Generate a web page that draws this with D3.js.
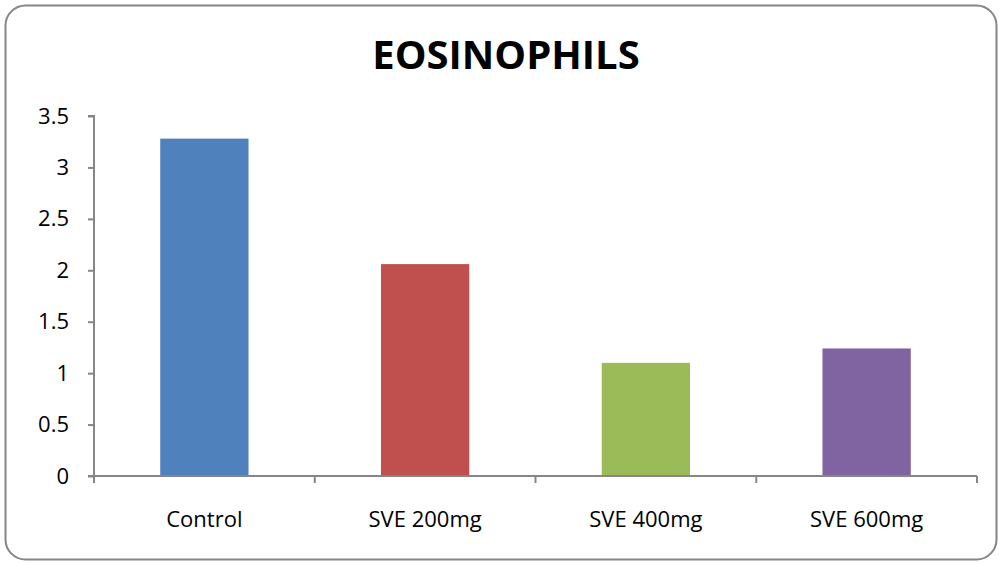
<!DOCTYPE html>
<html>
<head>
<meta charset="utf-8">
<script src="https://cdn.jsdelivr.net/npm/d3@7"></script>
<style>
  html, body { margin: 0; padding: 0; background: #fff; }
  svg { display: block; }
</style>
</head>
<body>
<svg id="chart" width="999" height="563"></svg>
<script>
// Eosinophil counts per treatment group
const categories = ["Control", "SVE 200mg", "SVE 400mg", "SVE 600mg"];
const values = [3.28, 2.06, 1.1, 1.24];
const colors = ["#4f81bd", "#c0504d", "#9bbb59", "#8064a2"];
const yTicks = [0, 0.5, 1, 1.5, 2, 2.5, 3, 3.5];
const yTickLabels = ["0", "0.5", "1", "1.5", "2", "2.5", "3", "3.5"];
const title = "EOSINOPHILS";

const svg = d3.select("#chart");
const W = 999, H = 563;
const font = "'Open Sans', 'Liberation Sans', sans-serif";

// outer frame
svg.append("rect")
  .attr("x", 5.5).attr("y", 5.5)
  .attr("width", W - 8).attr("height", H - 9)
  .attr("rx", 20).attr("ry", 20)
  .attr("fill", "#fff")
  .attr("stroke", "#868686")
  .attr("stroke-width", 2);

const plot = { left: 94, right: 977, top: 116, bottom: 476 };

const x = d3.scaleBand()
  .domain(categories)
  .range([plot.left, plot.right])
  .paddingInner(0.6)
  .paddingOuter(0.3);

const y = d3.scaleLinear()
  .domain([0, 3.5])
  .range([plot.bottom, plot.top]);

// title
svg.append("text")
  .attr("x", 506).attr("y", 69)
  .attr("text-anchor", "middle")
  .attr("font-family", font)
  .attr("font-weight", "bold")
  .attr("font-size", 40)
  .attr("fill", "#000")
  .text(title);

// bars
svg.append("g").selectAll("rect")
  .data(categories)
  .join("rect")
  .attr("x", d => x(d))
  .attr("width", x.bandwidth())
  .attr("y", (d, i) => y(values[i]))
  .attr("height", (d, i) => y(0) - y(values[i]))
  .attr("fill", (d, i) => colors[i]);

// y axis
const yAxis = d3.axisLeft(y)
  .tickValues(yTicks)
  .tickFormat((d, i) => yTickLabels[i])
  .tickSize(6)
  .tickPadding(19);

const gy = svg.append("g")
  .attr("transform", `translate(${plot.left},0)`)
  .call(yAxis);
gy.select(".domain").attr("stroke", "#868686").attr("stroke-width", 2)
  .attr("d", `M-6,${plot.top}H0V${plot.bottom}`);
gy.selectAll(".tick line").attr("stroke", "#868686").attr("stroke-width", 2);
gy.selectAll(".tick text")
  .attr("font-family", font)
  .attr("font-size", 22)
  .attr("fill", "#000");

// x axis: ticks at category boundaries
const xAxisG = svg.append("g")
  .attr("transform", `translate(0,${plot.bottom})`);
xAxisG.append("line")
  .attr("x1", plot.left - 6).attr("x2", plot.right)
  .attr("y1", 0).attr("y2", 0)
  .attr("stroke", "#868686").attr("stroke-width", 2);
const step = x.step();
const boundaries = d3.range(categories.length + 1).map(i => plot.left + i * step);
xAxisG.selectAll("line.b")
  .data(boundaries)
  .join("line")
  .attr("class", "b")
  .attr("x1", d => d).attr("x2", d => d)
  .attr("y1", 0).attr("y2", 7)
  .attr("stroke", "#868686").attr("stroke-width", 2);
xAxisG.selectAll("text")
  .data(categories)
  .join("text")
  .attr("x", d => x(d) + x.bandwidth() / 2)
  .attr("y", 51)
  .attr("text-anchor", "middle")
  .attr("font-family", font)
  .attr("font-size", 22)
  .attr("fill", "#000")
  .text(d => d);
</script>
</body>
</html>
